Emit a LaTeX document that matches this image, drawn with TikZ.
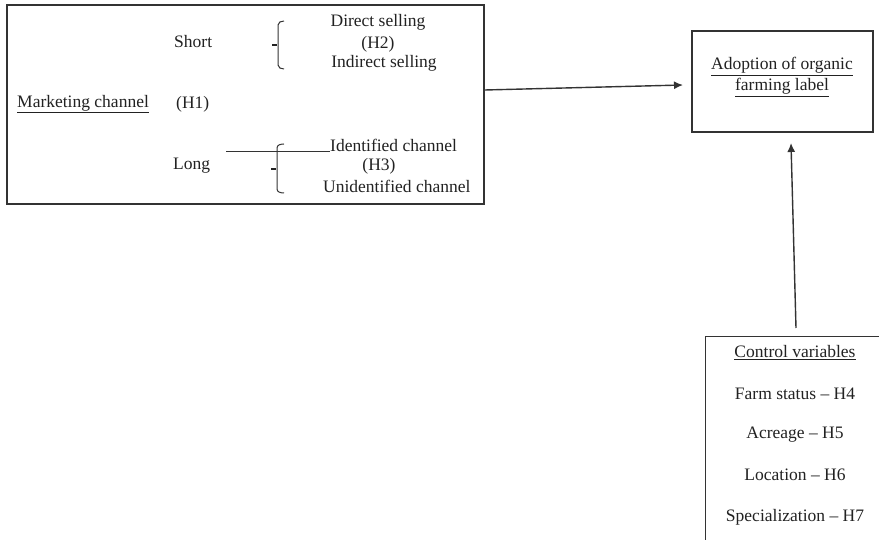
\documentclass[tikz,border=0pt]{standalone}
\usepackage{fontspec}
\setmainfont{Liberation Serif}
\usetikzlibrary{arrows.meta}
\definecolor{ink}{HTML}{222222}
\definecolor{edge}{HTML}{333333}
\tikzset{
  lbl/.style={inner sep=0pt, text=ink, font=\fontsize{17.5}{20}\selectfont},
  boxline/.style={draw=edge, line width=1.3pt},
  brk/.style={draw=edge, line width=1pt},
  tick/.style={draw=ink, line width=2.2pt},
  conn/.style={draw=edge, line width=1.4pt, -{Latex[length=9pt,width=8pt]}},
}
\begin{document}
\begin{tikzpicture}[x=1pt,y=-1pt]
\useasboundingbox (0,0) rectangle (879,540);
\fill[white] (0,0) rectangle (879,540);
% boxes
\node[boxline, rectangle, minimum width=477pt, minimum height=199pt, inner sep=0pt] (mcbox) at (245.5,104.5) {};
\node[boxline, rectangle, minimum width=181pt, minimum height=101pt, inner sep=0pt] (adbox) at (782.5,81.5) {};
\begin{scope}
\clip (0,0) rectangle (879,540);
\node[boxline, rectangle, minimum width=200pt, minimum height=240pt, inner sep=0pt, anchor=north west] (ctrlbox) at (705,336) {};
\end{scope}
% marketing channel texts
\node[lbl, anchor=west] (mc) at (17,104) {\underline{Marketing channel}};
\node[lbl, anchor=west] (h1) at (176,104) {(H1)};
\node[lbl, anchor=west] (short) at (174,42) {Short};
\node[lbl, anchor=west] (long) at (173,166) {Long};
\node[lbl] (ds) at (378,22) {Direct selling};
\node[lbl] (h2) at (378,44) {(H2)};
\node[lbl] (is) at (384,63) {Indirect selling};
\node[lbl, anchor=west] (ic) at (330,145) {Identified channel};
\node[lbl] (h3) at (379,166) {(H3)};
\node[lbl, anchor=west] (uc) at (323,186) {Unidentified channel};
% brackets
\coordinate (b1t) at (284,21);
\coordinate (b1b) at (284,69);
\draw[brk] (b1t) to[out=180,in=90] (278,25) -- (278,65) to[out=-90,in=180] (b1b);
\coordinate (t1a) at (272,45);
\coordinate (t1b) at (277,45);
\draw[tick] (t1a) -- (t1b);
\coordinate (b2t) at (284,144);
\coordinate (b2b) at (284,193);
\draw[brk] (b2t) to[out=180,in=90] (277,148) -- (277,189) to[out=-90,in=180] (b2b);
\coordinate (t2a) at (271,169);
\coordinate (t2b) at (276,169);
\draw[tick] (t2a) -- (t2b);
\coordinate (hl1) at (226,152);
\draw[brk] (hl1) -- (ic.west |- hl1);
% adoption
\node[lbl, align=center] (ad) at (782,77) {\underline{Adoption of organic}\\[1pt]\underline{farming label}};
% control variables
\node[lbl] (cv) at (795,353) {\underline{Control variables}};
\node[lbl] (fs) at (795,394) {Farm status -- H4};
\node[lbl] (ac) at (795,435) {Acreage -- H5};
\node[lbl] (lo) at (795,475) {Location -- H6};
\node[lbl] (sp) at (795,517) {Specialization -- H7};
% connectors
\coordinate (a1s) at ([yshift=14.5pt]mcbox.east);
\coordinate (a1e) at (683,85);
\draw[conn] (a1s) -- (a1e);
\coordinate (a2s) at (796,328);
\coordinate (a2e) at (791,143);
\draw[conn] (a2s) -- (a2e);
\end{tikzpicture}
\end{document}
